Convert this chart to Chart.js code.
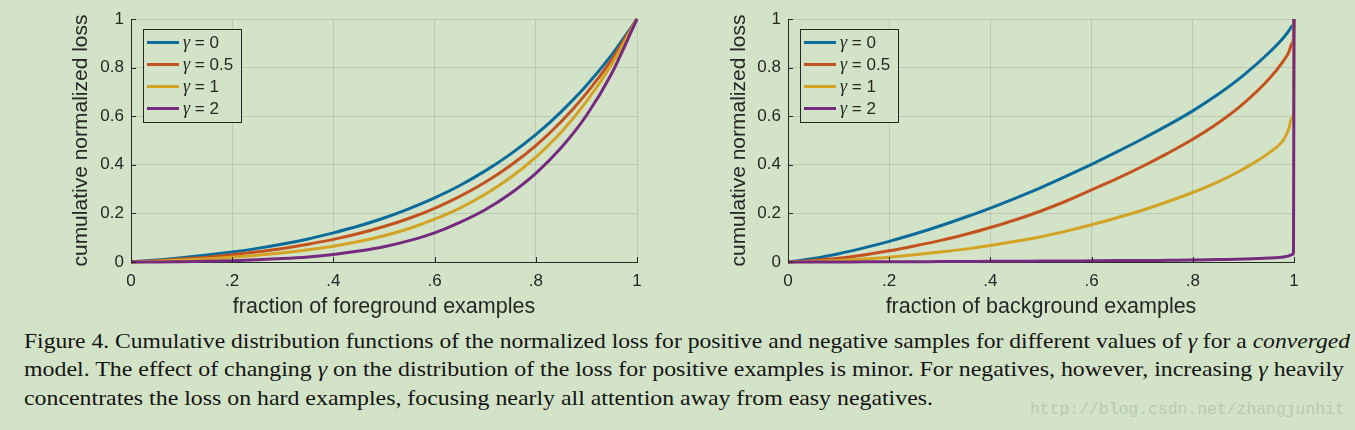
<!DOCTYPE html>
<html>
<head>
<meta charset="utf-8">
<script src="https://cdn.jsdelivr.net/npm/chart.js@4.4.1/dist/chart.umd.min.js"></script>
<style>
  html, body { margin: 0; padding: 0; }
  body { width: 1355px; height: 430px; background: #d3e3c8; position: relative; overflow: hidden; }
  .cadre { position: absolute; top: 0; height: 320px; }
  .ligne {
    position: absolute; left: 24px; white-space: nowrap;
    font-family: "Liberation Serif", "Times New Roman", serif;
    font-size: 22px; line-height: 24px; color: #141414;
    transform-origin: 0 50%;
  }
  #filigrane {
    position: absolute; left: 1030px; top: 400px;
    font-family: "Liberation Mono", monospace; font-size: 16.4px;
    color: #b9c9b1; white-space: nowrap;
  }
</style>
</head>
<body>
<div class="cadre" style="left:0;width:680px"><canvas id="g-fore" width="680" height="320"></canvas></div>
<div class="cadre" style="left:680px;width:675px"><canvas id="g-back" width="675" height="320"></canvas></div>

<div class="ligne" id="l1" data-w="1326" style="top:329px">Figure 4. Cumulative distribution functions of the normalized loss for positive and negative samples for different values of <i>γ</i> for a <i>converged</i></div>
<div class="ligne" id="l2" data-w="1320" style="top:357px">model. The effect of changing <i>γ</i> on the distribution of the loss for positive examples is minor. For negatives, however, increasing <i>γ</i> heavily</div>
<div class="ligne" id="l3" data-w="909" style="top:386px">concentrates the loss on hard examples, focusing nearly all attention away from easy negatives.</div>
<div id="filigrane">http://blog.csdn.net/zhangjunhit</div>

<script>
/* ── Données ────────────────────────────────────────────── */
const GAMMAS   = ['0', '0.5', '1', '2'];
const X_TICKS  = ['0', '.2', '.4', '.6', '.8', '1'];
const Y_TICKS  = ['0', '0.2', '0.4', '0.6', '0.8', '1'];

/* foreground (exemples positifs) */
const FG_X  = [0, 0.05, 0.1, 0.15, 0.2, 0.25, 0.3, 0.35, 0.4, 0.45, 0.5, 0.55, 0.6, 0.65, 0.7, 0.75, 0.8, 0.85, 0.9, 0.95, 1];
const FG_G0 = [0, 0.008, 0.018, 0.029, 0.041, 0.056, 0.074, 0.095, 0.12, 0.148, 0.181, 0.22, 0.264, 0.315, 0.375, 0.444, 0.524, 0.618, 0.726, 0.852, 1];
const FG_G1 = [0, 0.005, 0.012, 0.02, 0.03, 0.042, 0.056, 0.073, 0.093, 0.117, 0.146, 0.18, 0.221, 0.27, 0.328, 0.397, 0.479, 0.577, 0.694, 0.833, 1];
const FG_G2 = [0, 0.0035, 0.008, 0.013, 0.02, 0.028, 0.038, 0.05, 0.065, 0.084, 0.108, 0.138, 0.176, 0.222, 0.279, 0.348, 0.432, 0.534, 0.66, 0.813, 1];
const FG_G3 = [0, 0.0005, 0.0015, 0.003, 0.0055, 0.009, 0.014, 0.021, 0.031, 0.045, 0.063, 0.088, 0.12, 0.163, 0.215, 0.282, 0.365, 0.47, 0.603, 0.776, 1];

/* background (exemples négatifs) */
const BG_X  = [0, 0.05, 0.1, 0.15, 0.2, 0.25, 0.3, 0.35, 0.4, 0.45, 0.5, 0.55, 0.6, 0.65, 0.7, 0.75, 0.8, 0.85, 0.9, 0.95, 0.98, 0.99, 0.995, 0.999, 1];
const BG_G0 = [0, 0.014, 0.034, 0.058, 0.085, 0.115, 0.148, 0.184, 0.222, 0.263, 0.306, 0.353, 0.402, 0.453, 0.506, 0.562, 0.622, 0.69, 0.768, 0.86, 0.925, 0.952, 0.968, 0.98, 1];
const BG_G1 = [0, 0.006, 0.015, 0.029, 0.046, 0.066, 0.088, 0.113, 0.142, 0.174, 0.21, 0.251, 0.297, 0.343, 0.393, 0.447, 0.505, 0.572, 0.652, 0.752, 0.83, 0.865, 0.895, 0.92, 1];
const BG_G2 = [0, 0.002, 0.006, 0.012, 0.02, 0.03, 0.041, 0.053, 0.068, 0.085, 0.104, 0.127, 0.153, 0.182, 0.213, 0.248, 0.286, 0.33, 0.383, 0.448, 0.505, 0.55, 0.59, 0.61, 1];
const BG_G3 = [0, 0, 0, 0.001, 0.001, 0.001, 0.002, 0.002, 0.003, 0.003, 0.004, 0.004, 0.005, 0.006, 0.006, 0.007, 0.008, 0.01, 0.012, 0.016, 0.021, 0.025, 0.03, 0.04, 1];

const COULEURS = ['#0b6b9a', '#c4521e', '#d3a324', '#752a80'];
const ENCRE    = '#262626';
const FOND     = '#d3e3c8';

/* ── Légende MATLAB dans la zone du graphe ──────────────── */
const legendeInterne = {
  id: 'legendeInterne',
  afterDatasetsDraw(chart) {
    const { ctx, chartArea } = chart;
    const x0 = chartArea.left + 12, y0 = chartArea.top + 10;
    ctx.save();
    ctx.fillStyle = FOND;
    ctx.fillRect(x0, y0, 98, 93);
    ctx.strokeStyle = ENCRE;
    ctx.lineWidth = 1;
    ctx.strokeRect(x0 + 0.5, y0 + 0.5, 98, 93);
    chart.data.datasets.forEach((ds, i) => {
      const y = y0 + 13.5 + i * 22;
      ctx.strokeStyle = ds.borderColor;
      ctx.lineWidth = 3;
      ctx.beginPath();
      ctx.moveTo(x0 + 4, y);
      ctx.lineTo(x0 + 36, y);
      ctx.stroke();
      ctx.fillStyle = ENCRE;
      ctx.textBaseline = 'middle';
      ctx.font = 'italic 18px "Liberation Serif"';
      ctx.fillText('γ', x0 + 40, y + 1);
      const w = ctx.measureText('γ').width;
      ctx.font = '17px "Liberation Sans"';
      ctx.fillText(' = ' + GAMMAS[i], x0 + 40 + w, y + 1);
    });
    ctx.restore();
  },
};

/* ── Graduations vers l'intérieur ───────────────────────── */
const tiretsInternes = {
  id: 'tiretsInternes',
  afterDraw(chart) {
    const { ctx, chartArea, scales } = chart;
    ctx.save();
    ctx.strokeStyle = ENCRE;
    ctx.lineWidth = 1;
    ctx.beginPath();
    scales.x.ticks.forEach(t => {
      const px = Math.round(scales.x.getPixelForValue(t.value)) + 0.5;
      ctx.moveTo(px, chartArea.bottom);
      ctx.lineTo(px, chartArea.bottom - 5);
    });
    scales.y.ticks.forEach(t => {
      const py = Math.round(scales.y.getPixelForValue(t.value)) + 0.5;
      ctx.moveTo(chartArea.left, py);
      ctx.lineTo(chartArea.left + 5, py);
    });
    ctx.stroke();
    ctx.restore();
  },
};

function creerGraphe(id, xs, series, titreX, padGauche, largeurY, padDroite) {
  const datasets = series.map((ys, i) => ({
    label       : 'γ = ' + GAMMAS[i],
    data        : xs.map((x, k) => ({ x, y: ys[k] })),
    borderColor : COULEURS[i],
    borderWidth : 3,
    pointRadius : 0,
    cubicInterpolationMode: 'monotone',
    clip        : 4,
    order       : series.length - 1 - i,
  }));

  return new Chart(document.getElementById(id).getContext('2d'), {
    type: 'line',
    data: { datasets },
    options: {
      responsive: false,
      animation : false,
      devicePixelRatio: 1,
      layout: { padding: { left: padGauche, right: padDroite, top: 19, bottom: 0 } },
      plugins: { legend: { display: false }, tooltip: { enabled: false } },
      scales: {
        x: {
          type: 'linear', min: 0, max: 1,
          afterFit: s => { s.height = 58; },
          afterBuildTicks: s => { s.ticks = X_TICKS.map((_, i) => ({ value: i * 0.2 })); },
          grid  : { color: 'rgba(120,130,120,0.26)', drawTicks: false },
          border: { display: true, color: ENCRE, width: 1 },
          ticks : {
            padding: 9, color: ENCRE, maxRotation: 0, autoSkip: false,
            font: { family: '"Liberation Sans", Arial', size: 17 },
            callback: (v, i) => X_TICKS[i],
          },
          title: {
            display: true, text: titreX, color: ENCRE,
            padding: { top: 0, bottom: 0 },
            font: { family: '"Liberation Sans", Arial', size: 21.5 },
          },
        },
        y: {
          type: 'linear', min: 0, max: 1,
          afterFit: s => { s.width = largeurY; },
          afterBuildTicks: s => { s.ticks = Y_TICKS.map((_, i) => ({ value: i * 0.2 })); },
          grid  : { color: 'rgba(120,130,120,0.26)', drawTicks: false },
          border: { display: true, color: ENCRE, width: 1 },
          ticks : {
            padding: 7, color: ENCRE, autoSkip: false,
            font: { family: '"Liberation Sans", Arial', size: 17 },
            callback: (v, i) => Y_TICKS[i],
          },
          title: {
            display: true, text: 'cumulative normalized loss', color: ENCRE,
            padding: { top: 0, bottom: 0 },
            font: { family: '"Liberation Sans", Arial', size: 21 },
          },
        },
      },
    },
    plugins: [legendeInterne, tiretsInternes],
  });
}

creerGraphe('g-fore', FG_X, [FG_G0, FG_G1, FG_G2, FG_G3], 'fraction of foreground examples', 69, 62, 43);
creerGraphe('g-back', BG_X, [BG_G0, BG_G1, BG_G2, BG_G3], 'fraction of background examples', 47, 61, 61);

/* ── Légende texte : ajustée à la largeur de la figure ──── */
document.querySelectorAll('.ligne').forEach(el => {
  const cible = +el.dataset.w;
  const w = el.getBoundingClientRect().width;
  el.style.transform = `scaleX(${cible / w})`;
});
</script>
</body>
</html>
